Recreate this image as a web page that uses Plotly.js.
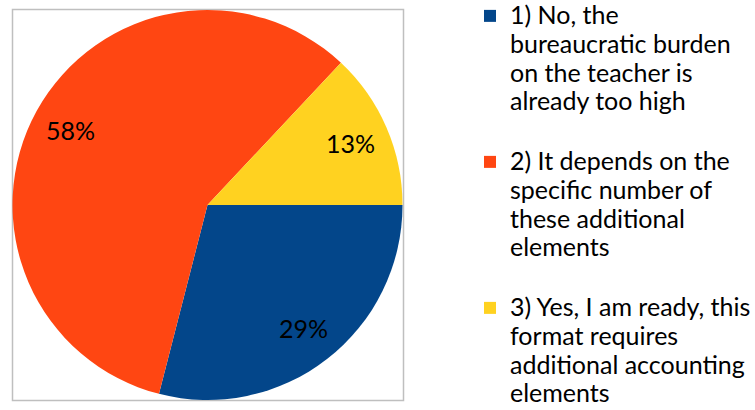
<!DOCTYPE html>
<html>
<head>
<meta charset="utf-8">
<script src="https://cdn.plot.ly/plotly-3.0.1.min.js"></script>
<style>html,body{margin:0;padding:0;background:#fff;}#chart{width:755px;height:410px;}</style>
</head>
<body>
<div id="chart"></div>
<script>
const categories = [
  "1) No, the<br>bureaucratic burden<br>on the teacher is<br>already too high",
  "2) It depends on the<br>specific number of<br>these additional<br>elements",
  "3) Yes, I am ready, this<br>format requires<br>additional accounting<br>elements"
];
const values = [29, 58, 13];
const colors = ["#03468A", "#FF4612", "#FFD220"];

const W = 755, H = 410;
const box = {x0: 12, x1: 403, y0: 10, y1: 400};

// legend labels: each line at the visible size, plus a spacer line between items
const labels = categories.map((c, i) => {
  const lines = c.split("<br>").map(s => '<span style="font-size:25px">' + s + '</span>');
  if (i < categories.length - 1) lines.push(" ");
  return lines.join("<br>");
});

const trace = {
  type: "pie",
  labels: labels,
  values: values,
  sort: false,
  direction: "clockwise",
  rotation: 90,
  marker: {colors: colors, line: {width: 0}},
  textinfo: "none",
  domain: {x: [box.x0/W, box.x1/W], y: [1 - box.y1/H, 1 - box.y0/H]},
  hoverinfo: "none",
  automargin: false
};

// percentage labels placed along each slice's bisector (derived from values)
const total = values.reduce((a, b) => a + b, 0);
const cx = (box.x0 + box.x1) / 2, cy = (box.y0 + box.y1) / 2;
const r = Math.min(box.x1 - box.x0, box.y1 - box.y0) / 2;
let cum = 0;
const annotations = values.map(v => {
  const mid = (cum + v / 2) / total * 2 * Math.PI; // clockwise from 3 o'clock
  cum += v;
  const px = cx + 0.8 * r * Math.cos(mid);
  const py = cy + 0.8 * r * Math.sin(mid);
  return {
    xref: "paper", yref: "paper", x: px / W, y: 1 - py / H,
    text: Math.round(v / total * 100) + "%", showarrow: false,
    xanchor: "center", yanchor: "middle",
    font: {family: "Lato, 'Open Sans', sans-serif", size: 25, color: "#000"}
  };
});

const layout = {
  width: W, height: H,
  margin: {l: 0, r: 0, t: 0, b: 0, autoexpand: false},
  paper_bgcolor: "#fff",
  showlegend: true,
  legend: {
    x: 470/W, y: 1.012, xanchor: "left", yanchor: "top",
    valign: "top",
    maxheight: 600,
    font: {family: "Lato, 'Open Sans', sans-serif", size: 22, color: "#000"},
    bgcolor: "rgba(0,0,0,0)",
    itemclick: false
  },
  annotations: annotations,
  shapes: [{
    type: "rect", xref: "paper", yref: "paper",
    x0: (box.x0 + 0.5)/W, x1: (box.x1 + 0.5)/W, y0: 1 - (box.y1 + 0.5)/H, y1: 1 - (box.y0 - 0.5)/H,
    line: {color: "#BFBFBF", width: 1.5}, fillcolor: "rgba(0,0,0,0)", layer: "below"
  }]
};

Plotly.newPlot("chart", [trace], layout, {displayModeBar: false, staticPlot: true});
</script>
</body>
</html>
